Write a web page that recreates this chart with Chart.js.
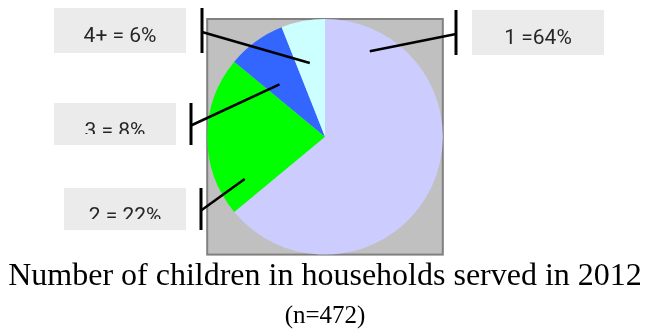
<!DOCTYPE html>
<html>
<head>
<meta charset="utf-8">
<script src="https://cdn.jsdelivr.net/npm/chart.js@4"></script>
<style>
  html, body { margin: 0; padding: 0; background: #fff; }
  canvas { display: block; }
</style>
</head>
<body>
<canvas id="myChart" width="658" height="329"></canvas>
<script>
const categories = ['1', '2', '3', '4+'];
const shares = [64, 22, 8, 6];
const sliceLabels = ['1 =64%', '2 = 22%', '3 = 8%', '4+ = 6%'];
const sliceColors = ['#ccccff', '#00ff00', '#3366ff', '#ccffff'];
const titleText = 'Number of children in households served in 2012';
const subtitleText = '(n=472)';

// callout boxes (x, y, w, h), the tick beside them, and where the leader enters the slice
// at = fraction along the slice angle, r = fraction of the radius
const callouts = [
    { box: [472, 10, 132, 45], tickX: 456, at: 0.12, r: 0.82, clip: false },
    { box: [64, 188, 122, 42], tickX: 201, at: 0.15, r: 0.77, clip: true },
    { box: [54, 103, 122, 42], tickX: 191, at: 0.33, r: 0.59, clip: true },
    { box: [54, 8, 132, 45], tickX: 202, at: 0.46, r: 0.64, clip: false }
];

const ctx = document.getElementById('myChart');

// grey square behind the pie
const backdrop = {
    id: 'backdrop',
    beforeDatasetsDraw(chart) {
        const arc = chart.getDatasetMeta(0).data[0];
        const r = arc.outerRadius;
        const c = chart.ctx;
        c.save();
        c.fillStyle = '#c0c0c0';
        c.fillRect(arc.x - r, arc.y - r, 2 * r, 2 * r);
        c.strokeStyle = '#808080';
        c.lineWidth = 2;
        c.strokeRect(arc.x - r, arc.y - r, 2 * r, 2 * r);
        c.restore();
    }
};

// label boxes with leader lines
const calloutPlugin = {
    id: 'callouts',
    afterDraw(chart) {
        const c = chart.ctx;
        chart.getDatasetMeta(0).data.forEach((arc, i) => {
            const o = callouts[i];
            const [bx, by, bw, bh] = o.box;

            c.save();
            c.fillStyle = '#ebebeb';
            c.fillRect(bx, by, bw, bh);
            if (o.clip) {
                c.beginPath();
                c.rect(bx, by, bw, bh - 11);
                c.clip();
            }
            c.fillStyle = '#262626';
            c.font = '21px Roboto, "DejaVu Sans", sans-serif';
            c.textAlign = 'center';
            c.textBaseline = 'alphabetic';
            c.fillText(sliceLabels[i], bx + bw / 2, by + 34);
            c.restore();

            const a = arc.startAngle + (arc.endAngle - arc.startAngle) * o.at;
            const ex = arc.x + Math.cos(a) * arc.outerRadius * o.r;
            const ey = arc.y + Math.sin(a) * arc.outerRadius * o.r;
            const sy = by + bh / 2 + 1.5;

            c.save();
            c.strokeStyle = '#000';
            c.lineCap = 'butt';
            c.lineWidth = 3;
            c.beginPath();
            c.moveTo(o.tickX, by);
            c.lineTo(o.tickX, by + bh);
            c.stroke();
            c.lineWidth = 2.5;
            c.beginPath();
            c.moveTo(o.tickX, sy);
            c.lineTo(ex, ey);
            c.stroke();
            c.restore();
        });
    }
};

new Chart(ctx, {
    type: 'pie',
    data: {
        labels: categories,
        datasets: [{
            data: shares,
            backgroundColor: sliceColors,
            borderWidth: 0
        }]
    },
    options: {
        responsive: false,
        animation: false,
        layout: {
            padding: { top: 19, bottom: 0, left: 0, right: 8 }
        },
        plugins: {
            legend: { display: false },
            tooltip: { enabled: false },
            title: {
                display: true,
                text: titleText,
                position: 'bottom',
                color: '#000',
                font: { family: '"Liberation Serif"', size: 32, weight: 'normal', lineHeight: 1.2 },
                padding: { top: 3, bottom: 0 }
            },
            subtitle: {
                display: true,
                text: subtitleText,
                position: 'bottom',
                weight: 3000, // keep it below the title
                color: '#000',
                font: { family: '"Liberation Serif"', size: 25, weight: 'normal', lineHeight: 1 },
                padding: { top: 8, bottom: 0 }
            }
        }
    },
    plugins: [backdrop, calloutPlugin]
});
</script>
</body>
</html>
